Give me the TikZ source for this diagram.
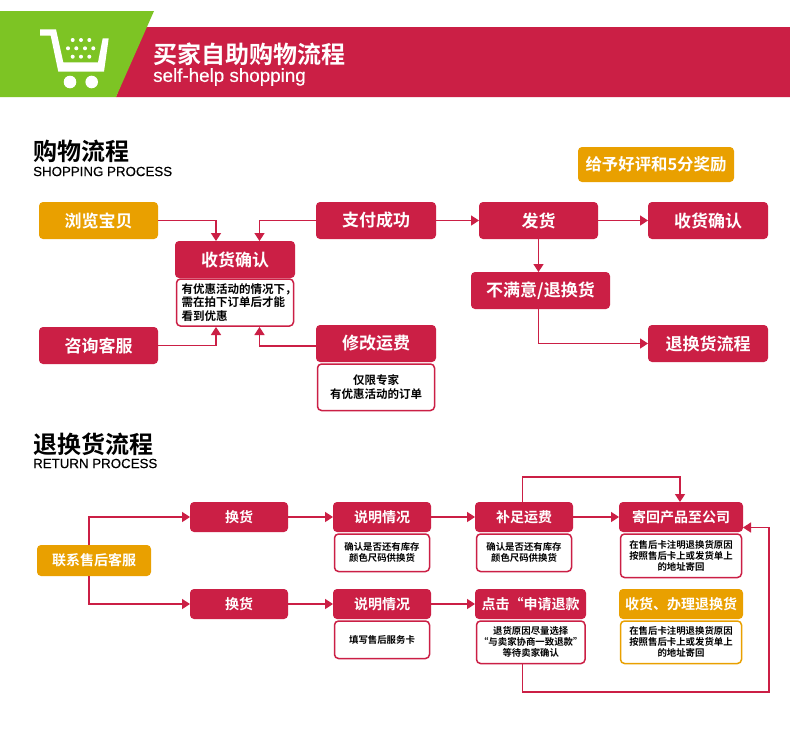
\documentclass[tikz,border=0pt]{standalone}
\usepackage{fontspec}
\setmainfont{Liberation Sans}
\newfontfamily\cjk{Noto Sans CJK SC Bold}
\newfontfamily\engf[FakeBold=0.25]{Liberation Sans}
\usetikzlibrary{arrows.meta}
\definecolor{crim}{HTML}{CB1F45}
\definecolor{amb}{HTML}{E9A000}
\definecolor{grn}{HTML}{7DC424}
\tikzset{
  x=1pt,y=-1pt,
  boxbase/.style={rounded corners=4pt,inner sep=0pt,outer sep=0pt,align=center,anchor=north west,font=\cjk},
  redbox/.style={boxbase,fill=crim,text=white},
  ambox/.style={boxbase,fill=amb,text=white},
  notebox/.style={boxbase,draw=crim,line width=1.5pt,fill=white,text=black},
  ambnote/.style={notebox,draw=amb},
  big/.style={font=\cjk\fontsize{17}{20}\selectfont},
  gold/.style={font=\cjk\fontsize{16.4}{20}\selectfont},
  mid/.style={font=\cjk\fontsize{14}{17}\selectfont},
  smallnote/.style={font=\cjk\fontsize{11.5}{13.4}\selectfont},
  tinynote/.style={font=\cjk\fontsize{9.4}{10.9}\selectfont},
  conn/.style={draw=crim,line width=1.6pt,-{Triangle[length=8pt,width=10pt]}},
  heading/.style={anchor=west,inner sep=0pt,font=\cjk\fontsize{24}{26}\selectfont},
  subheading/.style={anchor=west,inner sep=0pt,font=\engf\fontsize{13.3}{16}\selectfont},
}
\newcommand{\rbox}[7][]{\node[#2,minimum width=#5pt-#3pt,minimum height=#6pt-#4pt,#1] at (#3,#4) {#7};}
\begin{document}
\begin{tikzpicture}
\useasboundingbox[fill=white] (0,0) rectangle (790,750);
% header
\fill[crim] (143,27) -- (790,27) -- (790,97) -- (116,97) -- cycle;
\fill[grn] (0,11) -- (154,11) -- (116,97) -- (0,97) -- cycle;
% cart
\fill[white] (40,29.3) -- (56,29.3) -- (63.3,62.3) -- (98,62.3) -- (102.7,38.3) -- (108.7,38.3) -- (104,71.7) -- (58.3,71.7) -- (50.7,35.7) -- (40,35.7) -- cycle;
\fill[white] (70,82) circle (6.3) (91.7,82) circle (6.3);
\foreach \x/\y in {72.7/40,81/40,89.3/40,68/48.3,76.3/48.3,85/48.3,93.3/48.3,72.7/56.7,81/56.7,89.3/56.7}
  \fill[white] (\x,\y) circle (2);
\node[anchor=west,inner sep=0pt,text=white,font=\cjk\fontsize{24}{26}\selectfont] (t1) at (153,54) {买家自助购物流程};
\node[anchor=west,inner sep=0pt,text=white,font=\engf\fontsize{18.8}{20}\selectfont] (t2) at (153,77) {self-help shopping};
% section 1
\node[heading] (h1) at (33,151) {购物流程};
\node[subheading] (s1) at (33,171.5) {SHOPPING PROCESS};
\rbox[name=liulan]{ambox,big}{39}{202}{158}{239}{浏览宝贝}
\rbox[name=shou]{redbox,big}{175}{241}{295}{278}{收货确认}
\rbox[name=shounote]{notebox,smallnote}{176.5}{279}{293.5}{326}{\parbox{107pt}{\makebox[0pt][l]{有优惠活动的情况下，}\\需在拍下订单后才能\\看到优惠}}
\rbox[name=zhifu]{redbox,big}{316}{202}{436}{239}{支付成功}
\rbox[name=zixun]{redbox,big}{39}{327}{158}{364}{咨询客服}
\rbox[name=xiugai]{redbox,big}{316}{325}{436}{362}{修改运费}
\rbox[name=xiugainote]{notebox,smallnote}{317.5}{364}{434.5}{410.5}{仅限专家\\有优惠活动的订单}
\rbox[name=fahuo]{redbox,big}{479}{202}{598}{239}{发货}
\rbox[name=shou2]{redbox,big}{648}{202}{768}{239}{收货确认}
\rbox[name=bumanyi]{redbox,big}{471}{272}{610}{309}{不满意/退换货}
\rbox[name=tuiliu]{redbox,big}{648}{325}{768}{362}{退换货流程}
\rbox[name=geiyu]{ambox,gold}{578}{147}{734}{182}{给予好评和5分奖励}
\coordinate (sL) at (216,241); \coordinate (sR) at (259.5,241);
\coordinate (nL) at (216,327); \coordinate (nR) at (259.5,327);
\coordinate (xw) at (316,346);
\draw[conn] (liulan.east) -| (sL);
\draw[conn] (zhifu.west) -| (sR);
\draw[conn] (zixun.east) -| (nL);
\draw[conn] (xw) -| (nR);
\draw[conn] (zhifu.east) -- (fahuo.west);
\draw[conn] (fahuo.east) -- (shou2.west);
\draw[conn] (fahuo.south) -- (fahuo.south|-bumanyi.north);
\draw[conn] (fahuo.south|-bumanyi.south) |- (tuiliu.west);
% section 2
\node[heading] (h2) at (33,444) {退换货流程};
\node[subheading] (s2) at (33,463.5) {RETURN PROCESS};
\rbox[name=lianxi]{ambox,mid}{37}{545}{151}{576}{联系售后客服}
\rbox[name=hh1]{redbox,mid}{190}{502}{288}{532}{换货}
\rbox[name=hh2]{redbox,mid}{190}{589}{288}{619}{换货}
\rbox[name=sm1]{redbox,mid}{333}{502}{431}{532}{说明情况}
\rbox[name=sm1n]{notebox,tinynote}{334.5}{534}{429.5}{571.5}{确认是否还有库存\\颜色尺码供换货}
\rbox[name=sm2]{redbox,mid}{333}{589}{431}{619}{说明情况}
\rbox[name=sm2n]{notebox,tinynote}{334.5}{621}{429.5}{658.5}{填写售后服务卡}
\rbox[name=bz]{redbox,mid}{475}{502}{573}{532}{补足运费}
\rbox[name=bzn]{notebox,tinynote}{476.5}{534}{571.5}{571.5}{确认是否还有库存\\颜色尺码供换货}
\rbox[name=jh]{redbox,mid}{619}{502}{743}{532}{寄回产品至公司}
\rbox[name=jhn]{notebox,tinynote}{620.5}{534}{741.5}{577.5}{在售后卡注明退换货原因\\按照售后卡上或发货单上\\的地址寄回}
\rbox[name=dj]{redbox,mid}{475}{589}{586}{619}{点击“申请退款}
\rbox[name=djn]{notebox,tinynote}{476.5}{621}{585}{663.5}{退货原因尽量选择\\“与卖家协商一致退款”\\等待卖家确认}
\rbox[name=sh]{ambox,mid}{619}{589}{743}{619}{收货、办理退换货}
\rbox[name=shn]{ambnote,tinynote}{620.5}{621}{741.5}{663.5}{在售后卡注明退换货原因\\按照售后卡上或发货单上\\的地址寄回}
\coordinate (lx) at (89,545); \coordinate (lxb) at (89,576);
\draw[conn] (lx) |- (hh1.west);
\draw[conn] (lxb) |- (hh2.west);
\draw[conn] (hh1.east) -- (sm1.west);
\draw[conn] (hh2.east) -- (sm2.west);
\draw[conn] (sm1.east) -- (bz.west);
\draw[conn] (sm2.east) -- (dj.west);
\draw[conn] (bz.east) -- (jh.west);
\coordinate (a) at (522.5,502); \coordinate (b) at (680,502);
\draw[conn] (a) -- (522.5,477) -- (680,477) -- (b);
\coordinate (c) at (522.5,664); \coordinate (d) at (743,527.5);
\draw[conn] (c) -- (522.5,692) -- (769,692) -- (769,527.5) -- (d);
\end{tikzpicture}
\end{document}
